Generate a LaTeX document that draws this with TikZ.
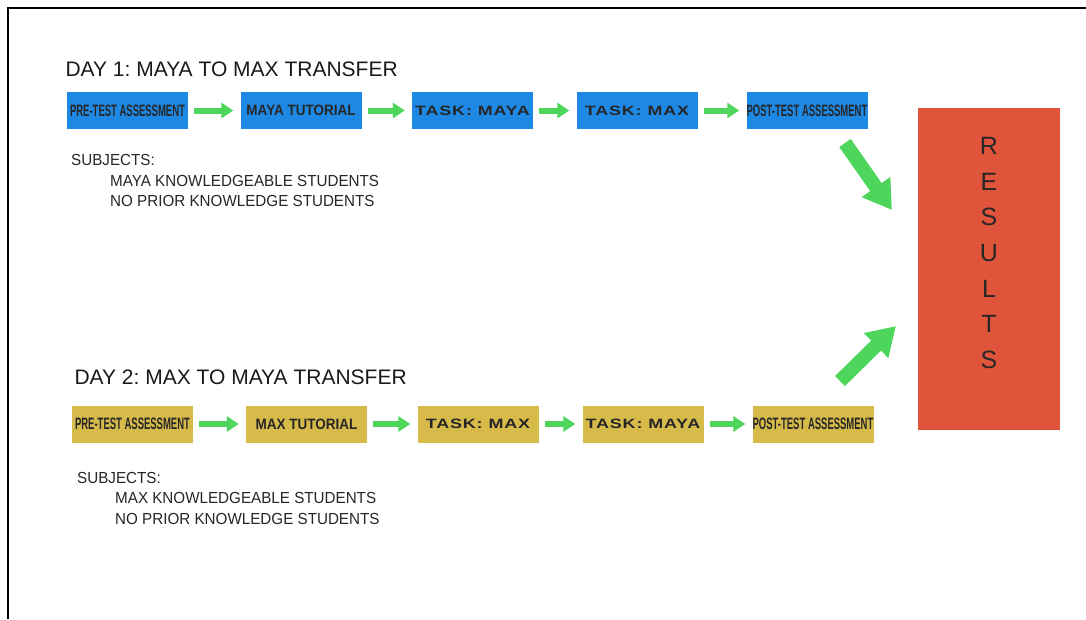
\documentclass[tikz,border=0pt]{standalone}
\usepackage{fontspec}
\setmainfont{Liberation Sans}
\newfontfamily\narrowfont[FakeStretch=0.575]{Liberation Sans}
\newfontfamily\tutfont[FakeStretch=0.9]{Liberation Sans}
\newfontfamily\widefont[FakeStretch=1.33,LetterSpace=6]{Liberation Sans}
\newfontfamily\subjfont[FakeStretch=0.95]{Liberation Sans}
\usetikzlibrary{arrows.meta,positioning}
\frenchspacing

\definecolor{dayblue}{RGB}{30,136,229}
\definecolor{daygold}{RGB}{214,186,74}
\definecolor{resred}{RGB}{224,84,60}
\definecolor{flowgreen}{RGB}{78,214,92}

\begin{document}
\begin{tikzpicture}[x=1pt,y=-1pt,
  stage/.style={minimum width=121pt,minimum height=37pt,inner sep=0pt,text=black!85},
  bluestage/.style={stage,fill=dayblue},
  goldstage/.style={stage,fill=daygold},
  narrowtxt/.style={font=\narrowfont\bfseries\fontsize{16.5}{18}\selectfont},
  tuttxt/.style={font=\tutfont\bfseries\fontsize{15}{18}\selectfont},
  widetxt/.style={font=\widefont\bfseries\fontsize{13.5}{16}\selectfont},
  daytitle/.style={anchor=west,font=\fontsize{21}{25}\selectfont,text=black!90},
  subj/.style={anchor=west,font=\subjfont\fontsize{16}{19}\selectfont,text=black!85,inner sep=0pt},
  flow/.style={draw=flowgreen,line width=6pt,-{Triangle[length=12pt,width=15pt]},shorten <=6pt,shorten >=7pt},
  bigflow/.style={draw=flowgreen,line width=14pt,-{Triangle[length=28pt,width=33pt]}}]
\useasboundingbox (0,0) rectangle (1086,619);
\draw[line width=2pt] (8,619)--(8,8)--(1086,8);
% day 1
\node[daytitle] (title1) at (62,69) {DAY 1: MAYA TO MAX TRANSFER};
\node[bluestage,narrowtxt] (b1) at (127.5,110.5) {PRE-TEST ASSESSMENT};
\node[bluestage,tuttxt] (b2) at (301,110.5) {MAYA TUTORIAL};
\node[bluestage,widetxt] (b3) at (472.5,110.5) {TASK: MAYA};
\node[bluestage,widetxt] (b4) at (637,110.5) {TASK: MAX};
\node[bluestage,narrowtxt] (b5) at (807,110.5) {POST-TEST ASSESSMENT};
\draw[flow] (b1)--(b2);
\draw[flow] (b2)--(b3);
\draw[flow] (b3)--(b4);
\draw[flow] (b4)--(b5);
\node[subj] (s1) at (71,160) {SUBJECTS:};
\node[subj] (s1a) at (110,181) {MAYA KNOWLEDGEABLE STUDENTS};
\node[subj] (s1b) at (110,201) {NO PRIOR KNOWLEDGE STUDENTS};
% day 2
\node[daytitle] (title2) at (71,377) {DAY 2: MAX TO MAYA TRANSFER};
\node[goldstage,narrowtxt] (c1) at (132.5,424) {PRE-TEST ASSESSMENT};
\node[goldstage,tuttxt] (c2) at (306.5,424) {MAX TUTORIAL};
\node[goldstage,widetxt] (c3) at (478,424) {TASK: MAX};
\node[goldstage,widetxt] (c4) at (643,424) {TASK: MAYA};
\node[goldstage,narrowtxt] (c5) at (813,424) {POST-TEST ASSESSMENT};
\draw[flow] (c1)--(c2);
\draw[flow] (c2)--(c3);
\draw[flow] (c3)--(c4);
\draw[flow] (c4)--(c5);
\node[subj] (s2) at (77,478) {SUBJECTS:};
\node[subj] (s2a) at (115,498) {MAX KNOWLEDGEABLE STUDENTS};
\node[subj] (s2b) at (115,519) {NO PRIOR KNOWLEDGE STUDENTS};
% results
\node[fill=resred,minimum width=142pt,minimum height=322pt,inner sep=0pt] (res) at (989,269) {};
\node[align=center,font=\fontsize{25}{35.7}\selectfont,text=black!85] (restxt) at (989,253) {R\\E\\S\\U\\L\\T\\S};
\coordinate (d1) at (845,143);
\coordinate (e1) at (892,210);
\coordinate (d2) at (840,381);
\coordinate (e2) at (896,326);
\draw[bigflow] (d1)--(e1);
\draw[bigflow] (d2)--(e2);
\end{tikzpicture}
\end{document}
